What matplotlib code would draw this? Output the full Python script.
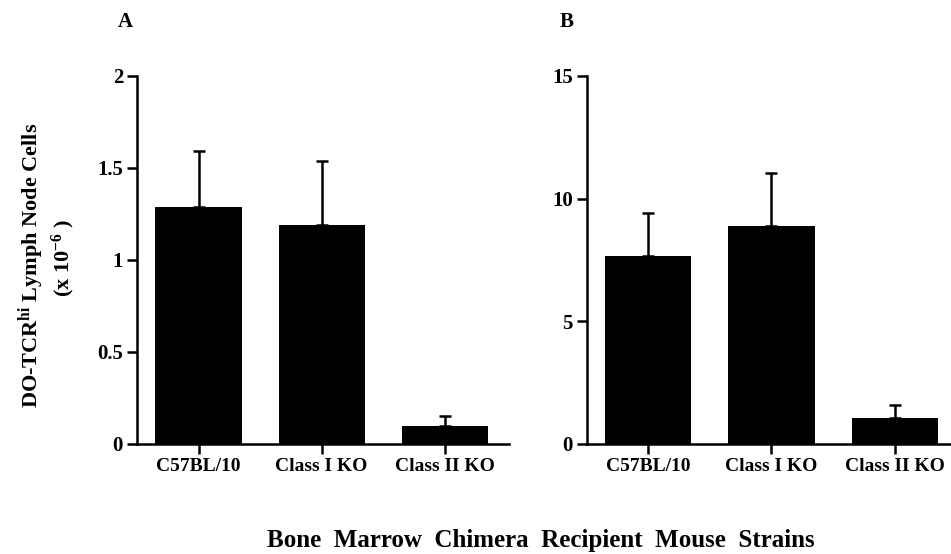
"""Bar chart of DO-TCRhi lymph node cells in bone marrow chimeras."""

import matplotlib
matplotlib.use("Agg")
import matplotlib.pyplot as plt
import numpy as np

plt.rcParams["font.family"] = ["Liberation Serif", "DejaVu Serif"]
plt.rcParams["font.weight"] = "bold"
plt.rcParams["mathtext.fontset"] = "custom"
plt.rcParams["mathtext.rm"] = "Liberation Serif:bold"
plt.rcParams["mathtext.bf"] = "Liberation Serif:bold"
plt.rcParams["mathtext.default"] = "bf"

strains = ["C57BL/10", "Class I KO", "Class II KO"]

# panel A, cells x 10^-6
a_mean = [1.29, 1.19, 0.10]
a_err = [0.30, 0.35, 0.05]
a_ticks = [0, 0.5, 1, 1.5, 2]
a_ticklabels = ["0", "0.5", "1", "1.5", "2"]

# panel B
b_mean = [7.65, 8.9, 1.05]
b_err = [1.75, 2.15, 0.55]
b_ticks = [0, 5, 10, 15]
b_ticklabels = ["0", "5", "10", "15"]


def draw_panel(ax, means, errs, ticks, ticklabels, xmax):
    x = np.arange(len(strains))
    ax.bar(x, means, width=0.7, color="black", zorder=2)
    ax.errorbar(x, means, yerr=[np.zeros(len(errs)), errs], fmt="none",
                ecolor="black", elinewidth=1.8, capsize=4, capthick=1.8,
                zorder=1)
    ax.set_xlim(-0.5, xmax)
    ax.set_ylim(ticks[0], ticks[-1])
    ax.set_yticks(ticks)
    ax.set_yticklabels(ticklabels)
    ax.set_xticks(x)
    ax.set_xticklabels(strains)
    for s in ["top", "right"]:
        ax.spines[s].set_visible(False)
    for s in ["left", "bottom"]:
        ax.spines[s].set_linewidth(1.8)
    ax.tick_params(axis="both", width=1.8, length=7, pad=3)
    ax.tick_params(axis="x", labelsize=14)
    ax.tick_params(axis="y", labelsize=15)


fig = plt.figure(figsize=(9.51, 5.54), dpi=100)
ax1 = fig.add_axes([0.144, 0.1986, 0.391, 0.6643])
ax2 = fig.add_axes([0.617, 0.1986, 0.382, 0.6643])

draw_panel(ax1, a_mean, a_err, a_ticks, a_ticklabels, 2.52)
draw_panel(ax2, b_mean, b_err, b_ticks, b_ticklabels, 2.45)

fig.text(125 / 951, 1 - 22 / 554, "A", fontsize=15, fontweight="bold",
         ha="center", va="center")
fig.text(567 / 951, 1 - 22 / 554, "B", fontsize=15, fontweight="bold",
         ha="center", va="center")

fig.text(31 / 951, 1 - 265 / 554, r"DO-TCR$^{hi}$ Lymph Node Cells",
         rotation=90, fontsize=16, fontweight="bold", ha="center", va="center")
fig.text(63 / 951, 1 - 258 / 554, r"(x 10$^{-6}$ )",
         rotation=90, fontsize=16, fontweight="bold", ha="center", va="center")

fig.text(541 / 951, 1 - 541 / 554,
         "Bone  Marrow  Chimera  Recipient  Mouse  Strains",
         fontsize=18, fontweight="bold", ha="center", va="center")

fig.savefig("out.png", dpi=100)
